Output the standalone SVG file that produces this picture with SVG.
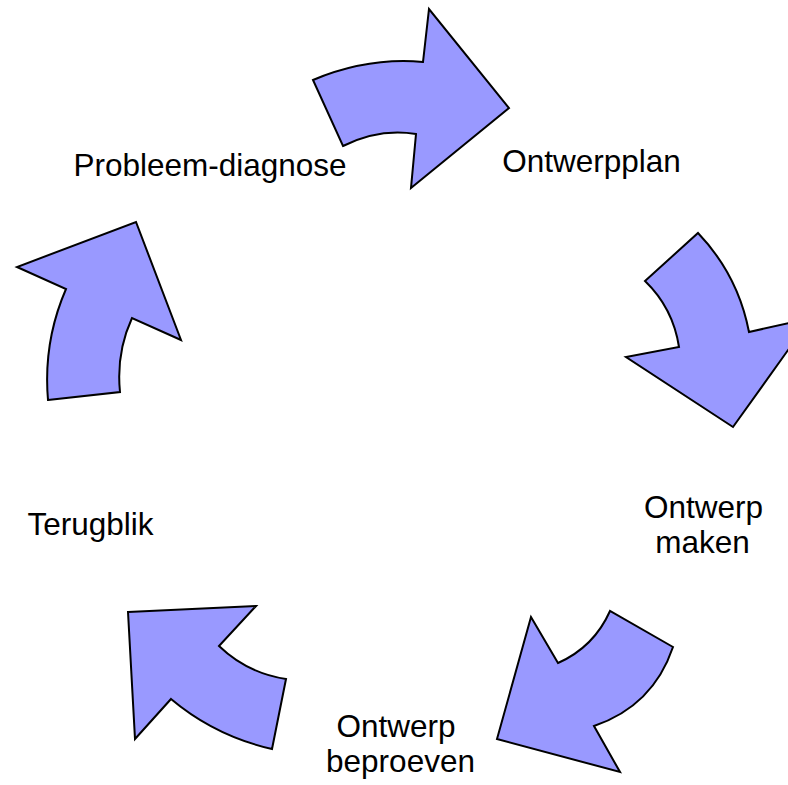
<svg xmlns="http://www.w3.org/2000/svg" width="788" height="785" viewBox="0 0 788 785">
<style>
.arrow{fill:#9999FF;stroke:#000;stroke-width:2;stroke-linejoin:miter}
.lbl{font-family:"Liberation Sans",Arial,sans-serif;font-size:31.5px;fill:#000;text-anchor:middle}
</style>
<rect width="788" height="785" fill="#fff"/>
<g id="connectors">
<path id="arrow1" class="arrow" d="M313,80 Q368,57 423,62 L429,9 L509,108 L411,188 L416,134 Q379,128 343,146 Z"/>
<path id="arrow2" class="arrow" d="M698,233 Q738,275 749,332 L811,318 L733,427 L626,357 L679,347 Q673,308 645,281 Z"/>
<path id="arrow3" class="arrow" d="M673,647 L610,611 Q594,647 558,663 L531,617 L497,739 L620,772 L594,726 Q653,706 673,647 Z"/>
<path id="arrow4" class="arrow" d="M128,612 L256,606 L219,646 Q247,673 286,679 L272,749 Q215,736 171,699 L135,739 Z"/>
<path id="arrow5" class="arrow" d="M48,400 L120,392 Q116,353 132,318 L181,340 L136,222 L17,267 L66,289 Q43,342 48,400 Z"/>
</g>
<g id="node-probleem"><text class="lbl" x="210" y="176">Probleem-diagnose</text></g>
<g id="node-ontwerpplan"><text class="lbl" x="591.5" y="172">Ontwerpplan</text></g>
<g id="node-maken"><text class="lbl"><tspan x="703.5" y="518">Ontwerp</tspan><tspan x="702.5" y="553">maken</tspan></text></g>
<g id="node-beproeven"><text class="lbl"><tspan x="396" y="737">Ontwerp</tspan><tspan x="400.5" y="772">beproeven</tspan></text></g>
<g id="node-terugblik"><text class="lbl" x="90.5" y="535">Terugblik</text></g>
</svg>
